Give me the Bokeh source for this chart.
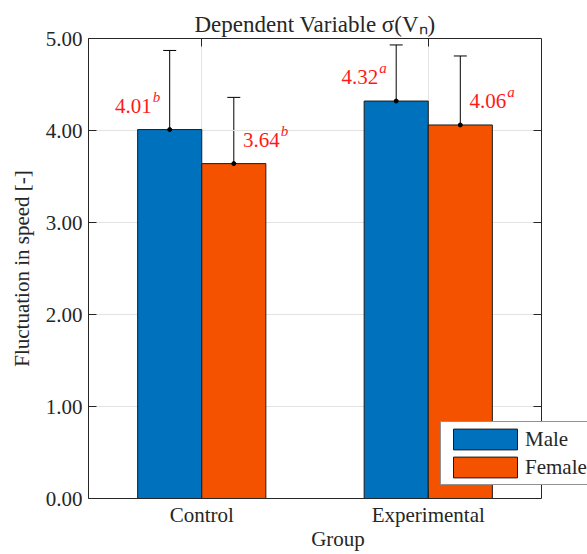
from bokeh.plotting import figure
from bokeh.models import (Range1d, FixedTicker, LinearAxis, Legend, LegendItem, Whisker,
                          ColumnDataSource, Title, PrintfTickFormatter, TeeHead)
from bokeh.embed import file_html
from bokeh.resources import INLINE

# Group means, standard deviations and significance letters
groups = ["Control", "Experimental"]
male_mean = [4.01, 4.32]
female_mean = [3.64, 4.06]
male_sd = [0.86, 0.61]
female_sd = [0.72, 0.75]
male_letters = ["b", "a"]
female_letters = ["b", "a"]
y_ticks = [0, 1, 2, 3, 4, 5]

FONT = "Liberation Serif"
FS = "21px"
BLUE = "#0072BD"
ORANGE = "#F55200"
DARK = "#262626"
GRID = "#e3e3e3"
BAR_W = 0.283

# one unit per group; the box spans [0, n], the frame runs a little further
# on the right so the legend can overhang the box
x_pos = [i + 0.5 for i in range(len(groups))]
X_BOX = float(len(groups))
X_END = X_BOX * 499 / 453


def make_source(mean, sd, letters, shift, edge):
    return ColumnDataSource(dict(
        x=[x + shift for x in x_pos],
        edge=[x + edge for x in x_pos],
        mean=mean,
        upper=[m + s for m, s in zip(mean, sd)],
        lower=[m - s for m, s in zip(mean, sd)],
        num=[f"{m:.2f}" for m in mean],
        sup=letters,
    ))


male_src = make_source(male_mean, male_sd, male_letters, -BAR_W / 2, -BAR_W)
female_src = make_source(female_mean, female_sd, female_letters, BAR_W / 2, BAR_W)

p = figure(width=587, height=554,
           x_range=Range1d(0, X_END), y_range=Range1d(0, 5),
           output_backend="svg", toolbar_location=None,
           min_border_left=88, min_border_right=0,
           min_border_top=38, min_border_bottom=56)

p.title = Title(text="Dependent Variable \u03c3(V\u2099)", align="left",
                text_font=FONT, text_font_size="23px", text_font_style="normal",
                text_color=DARK, standoff=3, offset=106)

p.background_fill_color = "white"
p.border_fill_color = "white"
p.outline_line_color = None

# grid: vertical lines through the group centres, horizontal ones inside the box
p.xgrid.ticker = FixedTicker(ticks=x_pos)
p.xgrid.grid_line_color = GRID
p.ygrid.grid_line_color = None
p.segment(x0=[0] * len(y_ticks), x1=[X_BOX] * len(y_ticks), y0=y_ticks, y1=y_ticks,
          line_color=GRID, line_width=1)

# main axes
for ax in (p.xaxis[0], p.yaxis[0]):
    ax.axis_line_color = DARK
    ax.major_tick_line_color = DARK
    ax.major_tick_in = 8
    ax.major_tick_out = 0
    ax.minor_tick_line_color = None
    ax.major_label_text_font = FONT
    ax.major_label_text_font_size = FS
    ax.major_label_text_color = DARK
    ax.axis_label_text_font = FONT
    ax.axis_label_text_font_size = FS
    ax.axis_label_text_font_style = "normal"
    ax.axis_label_text_color = DARK

p.yaxis.ticker = FixedTicker(ticks=y_ticks)
p.yaxis.formatter = PrintfTickFormatter(format="%.2f")
p.yaxis.axis_label = "Fluctuation in speed [-]"
p.yaxis.major_label_standoff = 6
p.yaxis.axis_label_standoff = 9
p.xaxis.ticker = FixedTicker(ticks=x_pos)
p.xaxis.major_label_overrides = {x: g for x, g in zip(x_pos, groups)}
p.xaxis.bounds = (0, X_BOX)
p.xaxis.axis_label = "Group"
p.xaxis.major_label_standoff = 4
p.xaxis.axis_label_standoff = -3

# box sides with inward ticks on the right and top
right = LinearAxis(ticker=FixedTicker(ticks=y_ticks), fixed_location=X_BOX,
                   axis_line_color=DARK, major_tick_line_color=DARK,
                   major_tick_in=8, major_tick_out=0, minor_tick_line_color=None,
                   major_label_overrides={t: "" for t in y_ticks},
                   major_label_standoff=0)
p.add_layout(right, "right")
top = LinearAxis(ticker=FixedTicker(ticks=x_pos), bounds=(0, X_BOX),
                 axis_line_color=DARK, major_tick_line_color=DARK,
                 major_tick_in=8, major_tick_out=0, minor_tick_line_color=None,
                 major_label_overrides={x: "" for x in x_pos},
                 major_label_standoff=0)
p.add_layout(top, "above")

# bars
male_bars = p.vbar(x="x", top="mean", width=BAR_W, source=male_src,
                   fill_color=BLUE, line_color="#1a1a1a", line_width=1)
female_bars = p.vbar(x="x", top="mean", width=BAR_W, source=female_src,
                     fill_color=ORANGE, line_color="#1a1a1a", line_width=1)

# error bars with mean markers
for src in (male_src, female_src):
    p.add_layout(Whisker(base="x", upper="upper", lower="lower", source=src,
                         line_color="black", line_width=1,
                         upper_head=TeeHead(size=13, line_color="black", line_width=1),
                         lower_head=TeeHead(size=13, line_color="black", line_width=1)))
    p.scatter(x="x", y="mean", source=src, size=4, color="black")

# value labels with significance letters, centred on the outer bar edge
for src in (male_src, female_src):
    p.text(x="edge", y="mean", text="num", source=src, x_offset=14, y_offset=-24,
           text_align="right", text_baseline="middle", text_color="#ff1a1a",
           text_font={"value": FONT}, text_font_size=FS)
    p.text(x="edge", y="mean", text="sup", source=src, x_offset=15, y_offset=-33,
           text_align="left", text_baseline="middle", text_color="#ff1a1a",
           text_font={"value": FONT}, text_font_size="15px",
           text_font_style="italic")

legend = Legend(items=[LegendItem(label="Male", renderers=[male_bars]),
                       LegendItem(label="Female", renderers=[female_bars])],
                location=(352, 13), orientation="vertical",
                glyph_width=80, glyph_height=26, spacing=2, padding=4,
                margin=0, label_standoff=0,
                label_text_font=FONT, label_text_font_size=FS,
                label_text_color=DARK, label_height=26,
                border_line_color=DARK, border_line_width=1,
                background_fill_color="white", background_fill_alpha=1)
p.add_layout(legend, "center")

open("out.html", "w").write(file_html(p, INLINE))
